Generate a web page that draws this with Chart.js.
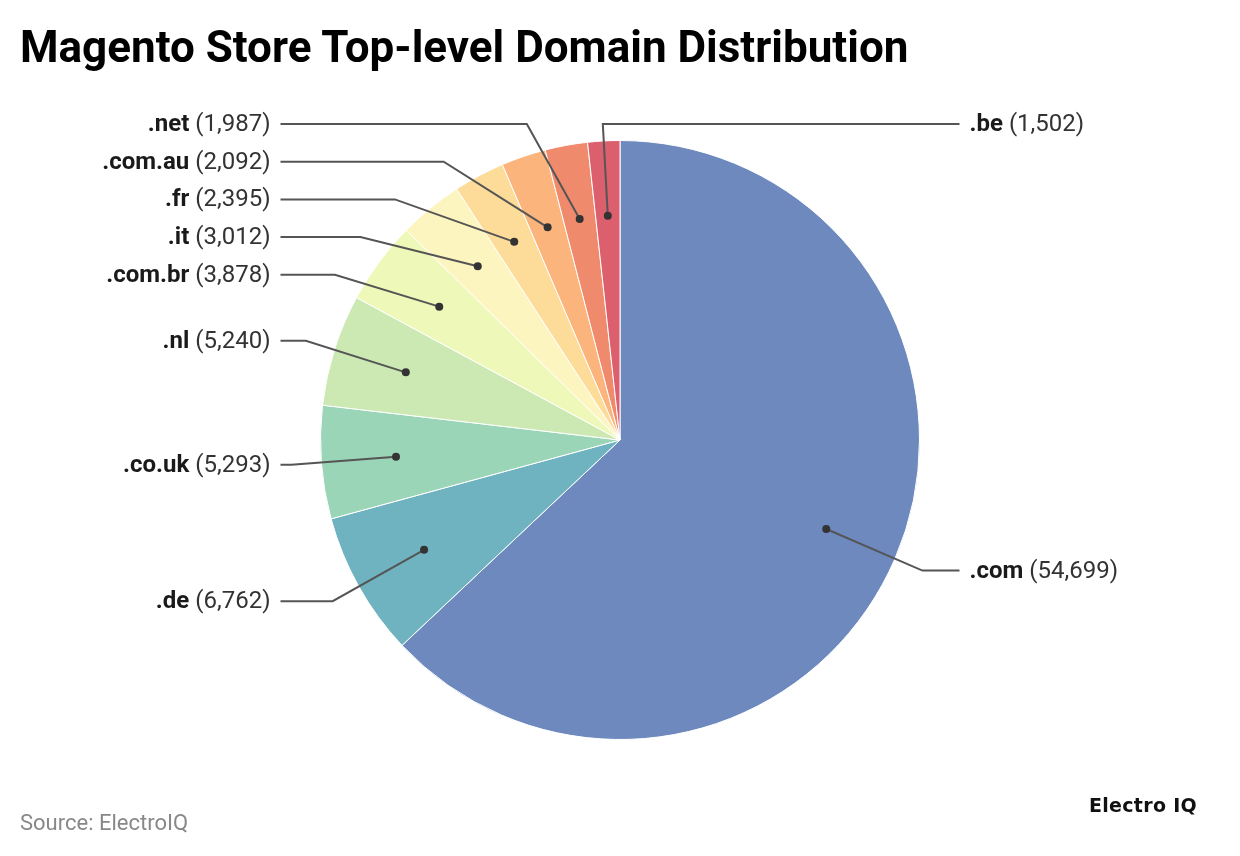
<!DOCTYPE html>
<html>
<head>
<meta charset="utf-8">
<script src="https://cdn.jsdelivr.net/npm/chart.js@4"></script>
<style>
  html, body { margin: 0; padding: 0; background: #fff; }
  #wrap { position: relative; width: 1240px; height: 856px; }
  #title { position: absolute; left: 20px; top: 21px; font: bold 44px Roboto, sans-serif; color: #000; white-space: nowrap; }
  #source { position: absolute; left: 20px; top: 810px; font: 22px Roboto, sans-serif; color: #888; }
  #logo { position: absolute; left: 1089px; top: 794px; font: bold 19px "DejaVu Sans", sans-serif; color: #111; letter-spacing: 0.3px; }
  canvas { position: absolute; left: 0; top: 0; }
</style>
</head>
<body>
<div id="wrap">
  <canvas id="c" width="1240" height="856"></canvas>
  <div id="title">Magento Store Top-level Domain Distribution</div>
  <div id="source">Source: ElectroIQ</div>
  <div id="logo">Electro IQ</div>
</div>
<script>
const categories = ['.com', '.de', '.co.uk', '.nl', '.com.br', '.it', '.fr', '.com.au', '.net', '.be'];
const values = [54699, 6762, 5293, 5240, 3878, 3012, 2395, 2092, 1987, 1502];
const colors = ['#6d89be', '#6fb3c0', '#9bd5b8', '#cce9b4', '#eef8b8', '#fdf5bf', '#fddb99', '#fbb47b', '#f08a6d', '#dc5f6e'];

const leaderPlugin = {
  id: 'leaders',
  afterDatasetsDraw(chart) {
    const ctx = chart.ctx;
    const meta = chart.getDatasetMeta(0);
    const items = [];
    meta.data.forEach((arc, i) => {
      const p = arc.getProps(['x', 'y', 'startAngle', 'endAngle', 'outerRadius'], true);
      const mid = (p.startAngle + p.endAngle) / 2;
      const c = Math.cos(mid), s = Math.sin(mid);
      const r = p.outerRadius;
      items.push({
        i, cx: p.x, cy: p.y, r, c, s,
        dotX: p.x + c * r * 0.75, dotY: p.y + s * r * 0.75,
        natY: p.y + s * r * 1.1,
        side: c > -0.1 ? 1 : -1
      });
    });
    const minY = chart.chartArea.top - 16;
    const gap = 37.7;
    [1, -1].forEach(side => {
      const list = items.filter(o => o.side === side).sort((a, b) => a.natY - b.natY);
      let prev = -Infinity;
      list.forEach(o => {
        let y = Math.max(o.natY, minY, prev + gap);
        o.y = y; prev = y;
      });
    });
    ctx.save();
    items.forEach(o => {
      const R = o.r * 1.1;
      const dy = o.y - o.cy;
      let ex;
      if ((o.c >= 0 ? 1 : -1) === o.side) {
        const h = Math.abs(dy) < R ? Math.sqrt(R * R - dy * dy) : 0;
        ex = o.cx + o.side * h;
      } else {
        ex = o.cx + dy * o.c / o.s;
      }
      const lx = o.cx + o.side * (o.r + 40);
      ctx.strokeStyle = '#555';
      ctx.lineWidth = 2;
      ctx.beginPath();
      ctx.moveTo(o.dotX, o.dotY);
      ctx.lineTo(ex, o.y);
      ctx.lineTo(lx, o.y);
      ctx.stroke();
      ctx.fillStyle = '#333';
      ctx.beginPath();
      ctx.arc(o.dotX, o.dotY, 4, 0, Math.PI * 2);
      ctx.fill();
      const name = categories[o.i];
      const val = ' (' + values[o.i].toLocaleString('en-US') + ')';
      const bold = 'bold 24px Roboto, sans-serif';
      const norm = '24px Roboto, sans-serif';
      ctx.textBaseline = 'middle';
      ctx.textAlign = 'left';
      ctx.font = bold; const wn = ctx.measureText(name).width;
      ctx.font = norm; const wv = ctx.measureText(val).width;
      let tx = o.side > 0 ? lx + 10 : lx - 10 - wn - wv;
      ctx.font = bold; ctx.fillStyle = '#1a1a1a';
      ctx.fillText(name, tx, o.y + 1);
      ctx.font = norm; ctx.fillStyle = '#333';
      ctx.fillText(val, tx + wn, o.y + 1);
    });
    ctx.restore();
  }
};

new Chart(document.getElementById('c'), {
  type: 'pie',
  data: {
    labels: categories,
    datasets: [{ data: values, backgroundColor: colors, borderColor: '#fff', borderWidth: 1 }]
  },
  options: {
    responsive: false,
    animation: false,
    layout: { padding: { top: 140, bottom: 116, left: 320, right: 320 } },
    plugins: { legend: { display: false }, tooltip: { enabled: false } }
  },
  plugins: [leaderPlugin]
});
</script>
</body>
</html>
